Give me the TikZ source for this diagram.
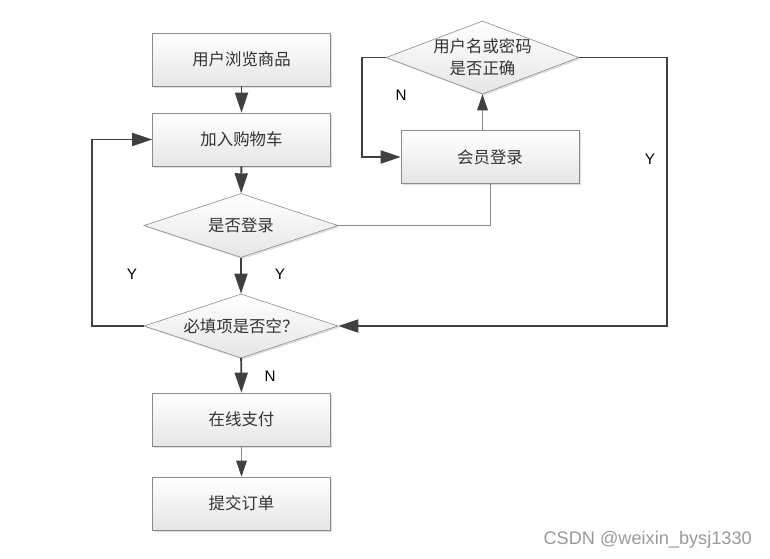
\documentclass[tikz,border=0pt]{standalone}
\usepackage{fontspec}
\setmainfont{Liberation Sans}
\newfontfamily\cjk{Noto Sans CJK SC}
\usepackage{tikz}
\usetikzlibrary{shapes.geometric,arrows.meta,shadows}
\definecolor{linegray}{HTML}{404040}
\definecolor{boxgray}{HTML}{8A8A8A}
\definecolor{textgray}{HTML}{333333}

\begin{document}
\begin{tikzpicture}[x=0.03cm,y=-0.03cm,
	box/.style={rectangle,draw=boxgray,line width=0.5pt,top color=white,bottom color=gray!20,
		drop shadow={shadow xshift=0.05cm,shadow yshift=-0.05cm,opacity=0.25},
		minimum width=5.34cm,minimum height=1.59cm,inner sep=0pt,
		font=\cjk\fontsize{14}{16}\selectfont,text=textgray},
	choice/.style={box,diamond,aspect=3,minimum width=5.82cm,minimum height=1.92cm},
	flow/.style={draw=linegray,line width=1.6pt,-{Triangle[length=0.6cm,width=0.39cm]}},
	thin/.style={draw=boxgray,line width=0.8pt},
	thinflow/.style={thin,-{Triangle[length=0.48cm,width=0.32cm,color=linegray]}},
	yn/.style={font=\fontsize{13}{15}\selectfont,text=black}]
	\useasboundingbox (0,0) rectangle (770,559);
	% main column
	\node[box] (browse) at (241.5,59.5) {用户浏览商品};
	\node[box] (cart) at (241.5,139.5) {加入购物车};
	\node[choice] (login) at (241,225.5) {是否登录};
	\node[choice] (empty) at (241,326) {必填项是否空？};
	\node[box] (pay) at (241.5,419.5) {在线支付};
	\node[box] (submit) at (241.5,503.5) {提交订单};
	% login branch
	\node[box] (member) at (490,157) {会员登录};
	\node[choice,inner sep=-6pt,minimum height=2.19cm,minimum width=5.79cm,align=center,
		font=\cjk\fontsize{14}{19}\selectfont] (check) at (482.5,57.5) {用户名或密码\\是否正确};

	\draw[flow] (browse) -- (cart);
	\draw[flow] (cart) -- (login);
	\draw[flow] (login) -- (empty);
	\draw[flow] (empty) -- (pay);
	\draw[thinflow] (pay) -- (submit);
	\draw[thin] (login.east) -| (member.south);
	\draw[thinflow] (member.north -| check.south) -- (check.south);
	\draw[flow] (check.west) -- ++(-24,0) |- (member.west);
	\draw[flow] (check.east) -- ++(88,0) |- (empty.east);
	\draw[flow] (empty.west) -- ++(-52,0) |- (cart.west);

	% labels
	\node[yn] (y1) at (132,274) {Y};
	\node[yn] (y2) at (280,274) {Y};
	\node[yn] (n1) at (270,376) {N};
	\node[yn] (n2) at (401,95) {N};
	\node[yn] (y3) at (650,159) {Y};
	\node[anchor=east,inner sep=0pt,text=gray!80,font=\fontsize{15.5}{18}\selectfont] (mark) at (752,540) {CSDN @weixin\_bysj1330};
\end{tikzpicture}
\end{document}
